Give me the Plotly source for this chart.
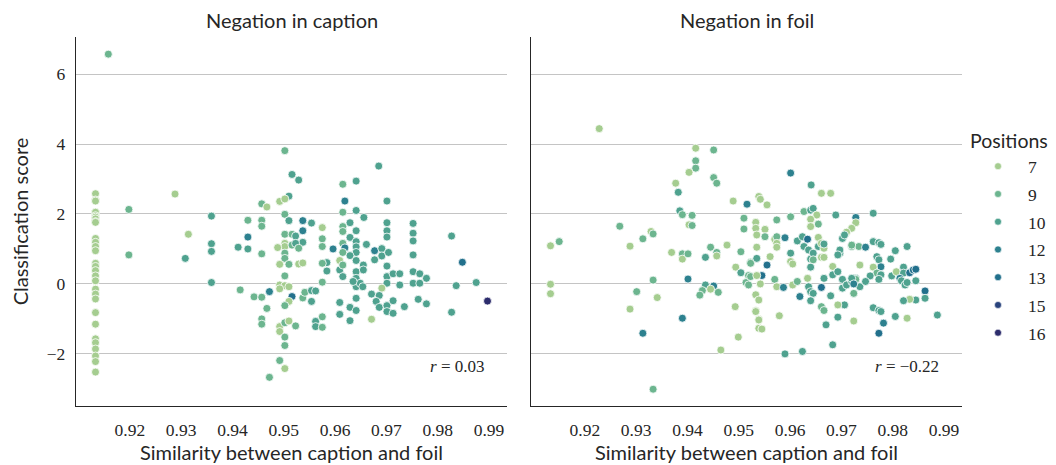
import plotly.graph_objects as go

# ---------------- data ----------------
positions = [7, 9, 10, 12, 13, 15, 16]
pos_colors = {7: "#a5cd90", 9: "#6cb58f", 10: "#4fa28f", 12: "#2d818f",
              13: "#22708c", 15: "#29437c", 16: "#2c2c6c"}

col_y = [2.58, 2.40, 2.37, 2.06, 2.05, 1.95, 1.91, 1.86, 1.78, 1.76, 1.30, 1.19, 1.07, 0.95,
         0.59, 0.50, 0.38, 0.23, 0.09, -0.15, -0.29, -0.43, -0.82, -1.15, -1.57, -1.68,
         -1.86, -2.06, -2.22, -2.52]

cap_pts = [
    (0.9158, 6.57, 9), (0.9288, 2.57, 7), (0.9198, 2.13, 9), (0.9198, 0.83, 9),
    (0.9314, 1.42, 7), (0.9308, 0.73, 10), (0.9359, 1.94, 10), (0.9359, 1.15, 10),
    (0.9359, 0.93, 10), (0.9359, 0.04, 10), (0.9411, 1.05, 10), (0.9430, 1.00, 10),
    (0.9430, 1.34, 12), (0.9430, 1.82, 9), (0.9415, -0.17, 9), (0.9442, -0.37, 9),
    (0.9457, 2.29, 9), (0.9457, 1.82, 9), (0.9457, 1.65, 9), (0.9457, 0.86, 9),
    (0.9457, -0.38, 9), (0.9457, -1.00, 9), (0.9457, -1.15, 9), (0.9472, -0.22, 12),
    (0.9472, -2.67, 9), (0.9467, -0.70, 9), (0.9467, 2.20, 7), (0.9502, 3.81, 9),
    (0.9516, 3.13, 10), (0.9529, 2.97, 10), (0.9510, 2.51, 10), (0.9492, 2.36, 7),
    (0.9502, 2.43, 7), (0.9502, 1.99, 9), (0.9510, 1.81, 10), (0.9537, 1.81, 12),
    (0.9554, 1.74, 10), (0.9575, 1.61, 7), (0.9502, 1.42, 9), (0.9516, 1.42, 9),
    (0.9523, 1.37, 10), (0.9537, 1.52, 12), (0.9537, 1.19, 10), (0.9502, 1.16, 7),
    (0.9502, 1.07, 7), (0.9488, 1.04, 7), (0.9502, 0.88, 9), (0.9516, 1.11, 9),
    (0.9523, 1.16, 10), (0.9529, 1.02, 9), (0.9502, 0.73, 9), (0.9575, 1.29, 9),
    (0.9575, 1.07, 9), (0.9584, 0.61, 10), (0.9584, 0.37, 10), (0.9575, 0.59, 9),
    (0.9575, 0.05, 9), (0.9492, 0.56, 7), (0.9510, 0.56, 9), (0.9529, 0.57, 7),
    (0.9537, 0.60, 7), (0.9502, 0.23, 9), (0.9492, -0.03, 7), (0.9502, -0.05, 7),
    (0.9510, -0.08, 7), (0.9492, -0.14, 7), (0.9516, -0.36, 13), (0.9510, -0.50, 7),
    (0.9502, -0.62, 9), (0.9537, -0.40, 9), (0.9541, -0.24, 9), (0.9554, -0.19, 10),
    (0.9562, -0.20, 10), (0.9554, -0.50, 10), (0.9492, -1.22, 7), (0.9502, -1.11, 9),
    (0.9510, -1.06, 7), (0.9492, -1.36, 7), (0.9523, -1.20, 9), (0.9562, -1.07, 10),
    (0.9562, -1.22, 10), (0.9575, -0.94, 9), (0.9575, -1.24, 9), (0.9502, -1.52, 9),
    (0.9502, -1.76, 9), (0.9492, -2.19, 9), (0.9502, -2.42, 7),
    (0.9685, 3.37, 10), (0.9615, 2.85, 9), (0.9641, 2.94, 10), (0.9619, 2.37, 12),
    (0.9701, 2.37, 10), (0.9615, 2.05, 9), (0.9641, 2.10, 10), (0.9656, 1.90, 10),
    (0.9629, 1.75, 10), (0.9615, 1.64, 9), (0.9615, 1.50, 9), (0.9641, 1.52, 10),
    (0.9701, 1.75, 10), (0.9701, 1.52, 10), (0.9701, 1.34, 10), (0.9752, 1.73, 10),
    (0.9752, 1.45, 10), (0.9752, 1.23, 10), (0.9752, 0.83, 10), (0.9629, 1.33, 10),
    (0.9615, 1.16, 9), (0.9641, 1.21, 10), (0.9661, 1.13, 10), (0.9596, 1.00, 12),
    (0.9619, 1.03, 12), (0.9641, 1.06, 10), (0.9641, 0.90, 10), (0.9629, 0.81, 10),
    (0.9615, 0.90, 9), (0.9609, 0.67, 7), (0.9677, 0.95, 12), (0.9691, 1.01, 10),
    (0.9691, 0.80, 10), (0.9704, 0.90, 10), (0.9677, 0.69, 10), (0.9609, 0.40, 10),
    (0.9615, 0.54, 9), (0.9615, 0.21, 10), (0.9641, 0.67, 10), (0.9641, 0.35, 10),
    (0.9641, 0.16, 10), (0.9655, 0.54, 10), (0.9655, 0.40, 10), (0.9641, -0.08, 10),
    (0.9649, 0.02, 10), (0.9654, -0.08, 10), (0.9635, 0.07, 10), (0.9701, 0.51, 10),
    (0.9701, 0.21, 10), (0.9701, 0.02, 10), (0.9713, 0.29, 10), (0.9726, 0.29, 10),
    (0.9726, -0.03, 10), (0.9691, -0.12, 7), (0.9752, 0.35, 10), (0.9752, 0.02, 10),
    (0.9765, 0.29, 10), (0.9765, 0.02, 10), (0.9778, 0.16, 10), (0.9671, -0.29, 10),
    (0.9686, -0.33, 10), (0.9680, -0.50, 10), (0.9686, -0.67, 10), (0.9701, -0.62, 10),
    (0.9701, -0.79, 10), (0.9713, -0.84, 10), (0.9713, -0.48, 10), (0.9735, -0.65, 10),
    (0.9609, -0.53, 10), (0.9609, -0.87, 10), (0.9629, -1.05, 10), (0.9629, -0.67, 10),
    (0.9641, -0.41, 10), (0.9641, -0.76, 10), (0.9671, -1.01, 7), (0.9762, -0.44, 10),
    (0.9778, -0.57, 10), (0.9827, 1.37, 10), (0.9848, 0.62, 13), (0.9836, -0.05, 10),
    (0.9875, 0.04, 10), (0.9897, -0.49, 16), (0.9827, -0.81, 10),
]

foil_pts = [
    (0.9228, 4.44, 7), (0.9268, 1.65, 9), (0.9329, 1.50, 7), (0.9333, 1.43, 9),
    (0.9313, 1.29, 9), (0.9288, 1.08, 7), (0.9133, 1.09, 7), (0.9150, 1.21, 9),
    (0.9133, -0.01, 7), (0.9133, -0.28, 7), (0.9333, 0.11, 9), (0.9301, -0.22, 9),
    (0.9341, -0.39, 7), (0.9288, -0.72, 7), (0.9313, -1.41, 12), (0.9333, -3.01, 9),
    (0.9416, 3.88, 7), (0.9451, 3.83, 9), (0.9416, 3.52, 9), (0.9416, 3.31, 9),
    (0.9403, 3.19, 7), (0.9377, 2.88, 7), (0.9382, 2.62, 10), (0.9451, 3.04, 9),
    (0.9457, 2.88, 9), (0.9489, 2.37, 7), (0.9516, 2.28, 12), (0.9385, 2.09, 10),
    (0.9390, 1.98, 9), (0.9409, 1.96, 9), (0.9403, 1.69, 7), (0.9409, 1.67, 9),
    (0.9369, 0.90, 7), (0.9390, 0.86, 9), (0.9390, 0.71, 7), (0.9401, 0.86, 9),
    (0.9435, 0.76, 10), (0.9445, 1.05, 9), (0.9457, 0.90, 9), (0.9457, 0.80, 7),
    (0.9477, 1.11, 7), (0.9504, 0.92, 9), (0.9510, 1.88, 9), (0.9510, 1.57, 9),
    (0.9494, 0.48, 7), (0.9504, 0.32, 10), (0.9519, 0.24, 9), (0.9514, 0.04, 9),
    (0.9519, -0.03, 9), (0.9523, 0.62, 9), (0.9401, 0.14, 12), (0.9435, -0.03, 10),
    (0.9451, -0.06, 12), (0.9429, -0.19, 9), (0.9424, -0.32, 9), (0.9445, -0.15, 7),
    (0.9460, -0.24, 9), (0.9390, -0.98, 12), (0.9493, -0.65, 7), (0.9533, -0.77, 7),
    (0.9539, -1.01, 7), (0.9499, -1.52, 7), (0.9465, -1.89, 7), (0.9539, 2.50, 7),
    (0.9533, 1.76, 7), (0.9533, 1.59, 7), (0.9535, 1.40, 7), (0.9535, 1.05, 7),
    (0.9533, -0.31, 7), (0.9539, -0.46, 7), (0.9539, -1.27, 7),
    (0.9601, 3.17, 12), (0.9641, 2.83, 10), (0.9661, 2.59, 7), (0.9679, 2.59, 7),
    (0.9542, 2.42, 7), (0.9555, 2.26, 7), (0.9551, 1.56, 7), (0.9551, 1.35, 9),
    (0.9574, 1.83, 9), (0.9601, 1.92, 9), (0.9627, 2.07, 9), (0.9640, 2.11, 10),
    (0.9645, 2.16, 10), (0.9652, 1.97, 7), (0.9640, 1.85, 7), (0.9655, 1.71, 9),
    (0.9640, 1.64, 7), (0.9689, 1.97, 10), (0.9728, 1.90, 12), (0.9728, 1.75, 7),
    (0.9720, 1.59, 7), (0.9710, 1.48, 7), (0.9561, 0.78, 7), (0.9535, 0.73, 10),
    (0.9523, 0.59, 9), (0.9555, 0.54, 13), (0.9545, 0.24, 13), (0.9523, 0.21, 9),
    (0.9542, 0.00, 7), (0.9535, 0.24, 7), (0.9570, 1.28, 7), (0.9574, 1.35, 9),
    (0.9590, 1.32, 12), (0.9574, 1.16, 7), (0.9574, 1.05, 7), (0.9601, 0.88, 10),
    (0.9601, 0.64, 7), (0.9605, 0.57, 7), (0.9614, 1.23, 10), (0.9624, 1.35, 10),
    (0.9627, 1.07, 10), (0.9634, 1.28, 13), (0.9636, 0.97, 10), (0.9640, 0.71, 10),
    (0.9640, 0.48, 10), (0.9645, 0.88, 10), (0.9655, 1.07, 10), (0.9655, 1.33, 7),
    (0.9661, 1.16, 7), (0.9666, 1.02, 7), (0.9666, 1.14, 10), (0.9661, 0.76, 7),
    (0.9666, 0.76, 7), (0.9645, 0.69, 9), (0.9570, 0.13, 9), (0.9574, -0.08, 7),
    (0.9587, -0.10, 12), (0.9605, -0.03, 7), (0.9614, 0.07, 9), (0.9634, 0.16, 7),
    (0.9636, -0.08, 10), (0.9619, -0.36, 12), (0.9640, -0.22, 10), (0.9645, -0.27, 10),
    (0.9661, -0.10, 13), (0.9679, -0.34, 10), (0.9666, 0.16, 10), (0.9683, 0.26, 10),
    (0.9683, 0.50, 7), (0.9693, 0.35, 10), (0.9702, 0.13, 10), (0.9702, -0.12, 10),
    (0.9697, 0.88, 10), (0.9697, 0.97, 10), (0.9702, 1.30, 10), (0.9706, 1.40, 10),
    (0.9693, 0.83, 10), (0.9720, 1.07, 9), (0.9734, 1.07, 9), (0.9710, -0.03, 10),
    (0.9720, 0.07, 10), (0.9728, 0.16, 10), (0.9736, -0.08, 10), (0.9706, -0.60, 10),
    (0.9693, -0.60, 7), (0.9533, -0.79, 7), (0.9539, -1.03, 7), (0.9545, -1.29, 7),
    (0.9579, -0.91, 7), (0.9661, -0.65, 9), (0.9666, -0.76, 9), (0.9640, -0.48, 10),
    (0.9693, -0.95, 10), (0.9670, -1.17, 10), (0.9683, -1.74, 10), (0.9590, -2.00, 10),
    (0.9624, -1.93, 10), (0.9762, 2.02, 10), (0.9720, 1.11, 9), (0.9747, 1.05, 12),
    (0.9762, 1.21, 10), (0.9773, 1.18, 10), (0.9777, 1.13, 10), (0.9805, 0.95, 10),
    (0.9828, 1.07, 10), (0.9796, 0.71, 10), (0.9769, 0.78, 10), (0.9773, 0.69, 10),
    (0.9777, 0.49, 12), (0.9762, 0.48, 7), (0.9769, 0.31, 9), (0.9777, 0.26, 10),
    (0.9773, 0.13, 10), (0.9736, 0.54, 7), (0.9756, 0.23, 10), (0.9747, 0.07, 10),
    (0.9728, 0.13, 9), (0.9720, 0.16, 10), (0.9724, 0.00, 12), (0.9798, 0.23, 10),
    (0.9807, 0.35, 7), (0.9821, 0.48, 10), (0.9821, 0.31, 10), (0.9814, 0.16, 12),
    (0.9817, 0.09, 10), (0.9824, -0.03, 10), (0.9833, 0.32, 13), (0.9840, 0.40, 13),
    (0.9845, 0.42, 13), (0.9845, 0.09, 10), (0.9828, 0.04, 10), (0.9863, -0.20, 13),
    (0.9724, -0.27, 9), (0.9863, -0.41, 10), (0.9845, -0.46, 10), (0.9833, -0.44, 7),
    (0.9821, -0.48, 10), (0.9762, -0.68, 10), (0.9773, -0.76, 10), (0.9777, -0.79, 10),
    (0.9805, -0.93, 10), (0.9828, -0.98, 7), (0.9782, -1.12, 12), (0.9773, -1.41, 13),
    (0.9887, -0.89, 10), (0.9724, -1.06, 7),
]

cap_x = [0.9133] * len(col_y) + [p[0] for p in cap_pts]
cap_y = list(col_y) + [p[1] for p in cap_pts]
cap_pos = [7] * len(col_y) + [p[2] for p in cap_pts]
foil_x = [p[0] for p in foil_pts]
foil_y = [p[1] for p in foil_pts]
foil_pos = [p[2] for p in foil_pts]

r_texts = ["<i>r</i> = 0.03", "<i>r</i> = −0.22"]
titles = ["Negation in caption", "Negation in foil"]
x_ticks = [0.92, 0.93, 0.94, 0.95, 0.96, 0.97, 0.98, 0.99]
y_ticks = [-2, 0, 2, 4, 6]

# ---------------- figure ----------------
W, H = 1056, 465
SANS = "Lato, 'Noto Sans', sans-serif"
SERIF = "'Liberation Serif', 'DejaVu Serif', serif"
INK = "#262626"

fig = go.Figure()
marker_common = dict(size=8, line=dict(color="white", width=0.8))

fig.add_trace(go.Scatter(x=cap_x, y=cap_y, mode="markers", xaxis="x", yaxis="y",
                         showlegend=False,
                         marker=dict(color=[pos_colors[p] for p in cap_pos], **marker_common)))
fig.add_trace(go.Scatter(x=foil_x, y=foil_y, mode="markers", xaxis="x2", yaxis="y2",
                         showlegend=False,
                         marker=dict(color=[pos_colors[p] for p in foil_pos], **marker_common)))
for p in positions:
    fig.add_trace(go.Scatter(x=[None], y=[None], mode="markers", name=str(p),
                             legendgroup=str(p), xaxis="x", yaxis="y",
                             marker=dict(color=pos_colors[p], size=7,
                                         line=dict(color="white", width=0.6))))

xdom1 = [76 / W, 507 / W]
xdom2 = [531 / W, 962 / W]
ydom = [1 - 406 / H, 1 - 37 / H]
xr = [0.9095, 0.9935]
yr = [-3.49, 7.06]

axis_common = dict(showline=True, linecolor=INK, linewidth=1.3, ticks="",
                   zeroline=False, mirror=False)
xa = dict(domain=xdom1, range=xr, tickvals=x_ticks, ticktext=[f"{v:.2f}" for v in x_ticks],
          showgrid=False, tickfont=dict(family=SERIF, size=17.5, color=INK),
          ticklabelstandoff=8,
          title=dict(text="Similarity between caption and foil",
                     font=dict(family=SANS, size=20, color=INK), standoff=5),
          **axis_common)
ya = dict(domain=ydom, range=yr, tickvals=y_ticks, showgrid=True, gridcolor="#c4c4c4",
          gridwidth=1, tickfont=dict(family=SERIF, size=17.5, color=INK),
          ticklabelstandoff=6,
          title=dict(text="Classification score",
                     font=dict(family=SANS, size=20, color=INK), standoff=12),
          **axis_common)
fig.update_layout(
    width=W, height=H, margin=dict(l=0, r=0, t=0, b=0),
    paper_bgcolor="white", plot_bgcolor="white",
    xaxis=xa,
    yaxis=ya,
    xaxis2=dict(xa, domain=xdom2, anchor="y2"),
    yaxis2=dict(ya, anchor="x2", showticklabels=False, title=None),
    legend=dict(x=968 / W, y=1 - 123 / H, xanchor="left", yanchor="top",
                title=dict(text="Positions", font=dict(family=SANS, size=19.5, color=INK)),
                font=dict(family=SERIF, size=17.5, color=INK),
                traceorder="grouped", tracegroupgap=2, itemwidth=50,
                bgcolor="rgba(0,0,0,0)"),
    showlegend=True,
)
fig.layout.xaxis.anchor = "y"
fig.layout.yaxis.anchor = "x"

for i, (t, r) in enumerate(zip(titles, r_texts)):
    xd = xdom1 if i == 0 else xdom2
    fig.add_annotation(text=t, xref="paper", yref="paper", x=(xd[0] + xd[1]) / 2,
                       y=1 - 20 / H, showarrow=False, xanchor="center", yanchor="middle",
                       font=dict(family=SANS, size=20, color=INK))
    fig.add_annotation(text=r, xref="x" if i == 0 else "x2", yref="paper",
                       x=0.9894, y=1 - 366 / H, showarrow=False, xanchor="right",
                       yanchor="middle", font=dict(family=SERIF, size=17, color=INK))

fig.write_html("out.html")
